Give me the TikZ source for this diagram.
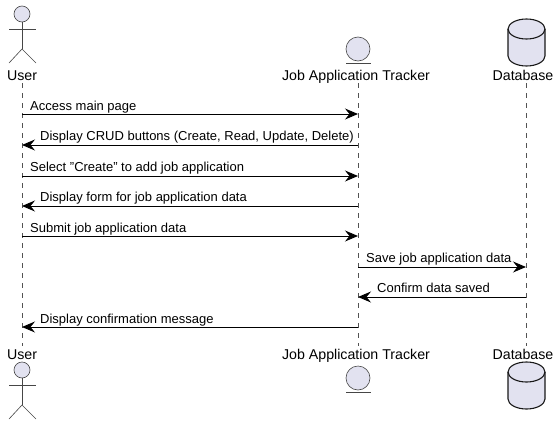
\documentclass[tikz,border=0pt]{standalone}
\usepackage{fontspec}
\setmainfont{Liberation Sans}
\usetikzlibrary{arrows.meta}
\definecolor{partfill}{HTML}{E2E2F0}
\definecolor{partline}{HTML}{181818}
\tikzset{
  lifeline/.style={draw=partline!75,line width=0.5pt,dash pattern=on 5pt off 5pt},
  message/.style={draw=black,line width=0.9pt,-{Stealth[length=13pt,width=11pt,inset=4.5pt]}},
  msglabel/.style={anchor=base west,inner sep=0pt,font=\fontsize{13}{15}\selectfont},
  partlabel/.style={anchor=base,inner sep=0pt,font=\fontsize{14.2}{16}\selectfont},
  actorline/.style={draw=partline!80,line width=0.6pt},
  partshape/.style={draw=partline!80,fill=partfill,line width=0.6pt},
  dbshape/.style={draw=partline,fill=partfill,line width=1.1pt}
}
\begin{document}
\begin{tikzpicture}[x=1pt,y=-1pt]
\useasboundingbox (0,0) rectangle (560,426);

% participant names, top and bottom
\node [partlabel] (usertop) at (22,80) {User};
\node [partlabel] (trackertop) at (356,80) {Job Application Tracker};
\node [partlabel] (dbtop) at (523,80) {Database};
\node [partlabel] (userbot) at (22,359) {User};
\node [partlabel] (trackerbot) at (356,359) {Job Application Tracker};
\node [partlabel] (dbbot) at (523,359) {Database};

% lifelines
\coordinate (utop) at (22,83);
\coordinate (ubot) at (22,346);
\coordinate (ttop) at (358,83);
\coordinate (tbot) at (358,346);
\coordinate (dtop) at (526,83);
\coordinate (dbot) at (526,346);
\draw [lifeline] (utop)--(ubot);
\draw [lifeline] (ttop)--(tbot);
\draw [lifeline] (dtop)--(dbot);

% user, twice
\foreach \y in {0,356}{
  \begin{scope}[yshift=-\y pt]
  \draw [partshape] (22,14) circle (8);
  \draw [actorline] (22,22)--(22,49);
  \draw [actorline] (9,29)--(36,29);
  \draw [actorline] (9,63)--(22,49)--(36,63);
  \end{scope}
}

% tracker, twice
\foreach \y in {0,329}{
  \begin{scope}[yshift=-\y pt]
  \draw [partshape] (358,49) circle (12);
  \draw [actorline] (346,63)--(371,63);
  \end{scope}
}

% database, twice
\foreach \y in {0,343}{
  \begin{scope}[yshift=-\y pt]
  \draw [dbshape] (508,29) arc[start angle=180,end angle=360,x radius=18.5,y radius=10]
    --(545,56) arc[start angle=0,end angle=180,x radius=18.5,y radius=10]--cycle;
  \draw [dbshape,fill=none] (508,29) arc[start angle=180,end angle=0,x radius=18.5,y radius=10];
  \end{scope}
}

% rows of the messages
\foreach \n/\y in {1/114,2/145,3/176,4/206,5/236,6/267,7/297,8/327}{
  \coordinate (u\n) at (22,\y);
  \coordinate (t\n) at (358,\y);
  \coordinate (d\n) at (526,\y);
}

\draw [message] (u1)--(t1);
\draw [message] (t2)--(u2);
\draw [message] (u3)--(t3);
\draw [message] (t4)--(u4);
\draw [message] (u5)--(t5);
\draw [message] (t6)--(d6);
\draw [message] (d7)--(t7);
\draw [message] (t8)--(u8);

\node [msglabel] (access) at (30,110) {Access main page};
\node [msglabel] (crud) at (40,140) {Display CRUD buttons (Create, Read, Update, Delete)};
\node [msglabel] (select) at (30,171) {Select "Create" to add job application};
\node [msglabel] (form) at (40,201) {Display form for job application data};
\node [msglabel] (submit) at (30,232) {Submit job application data};
\node [msglabel] (save) at (366,262) {Save job application data};
\node [msglabel] (confirm) at (377,292) {Confirm data saved};
\node [msglabel] (done) at (40,323) {Display confirmation message};
\end{tikzpicture}
\end{document}
